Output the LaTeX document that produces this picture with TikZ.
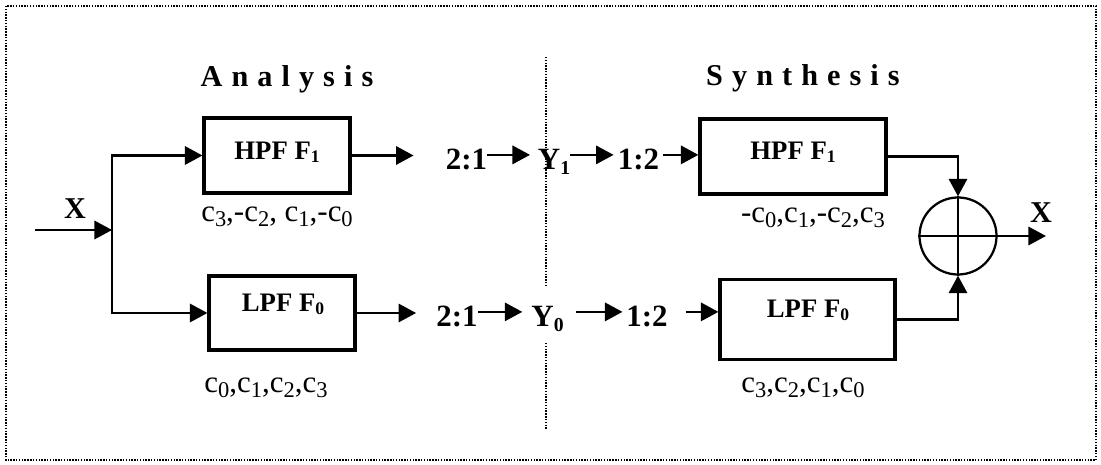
\documentclass[tikz,border=0pt]{standalone}
\usepackage{fontspec}
\setmainfont{Liberation Serif}
\newfontfamily\spacedfont[LetterSpace=30]{Liberation Serif}
\usetikzlibrary{arrows.meta}
\newcommand{\cf}[1]{c\raisebox{-3pt}{\fontsize{16}{16}\selectfont #1}}
\newcommand{\fsub}[1]{\raisebox{-2pt}{\fontsize{12.5}{12.5}\selectfont #1}}
\newcommand{\ysub}[1]{\raisebox{-3pt}{\fontsize{14}{14}\selectfont #1}}
\tikzset{
    filt/.style={draw, line width=2.2pt, inner sep=0pt},
    flabel/.style={anchor=base, inner sep=0pt, font=\bfseries\fontsize{19}{19}\selectfont},
    coef/.style={anchor=base, inner sep=0pt, font=\fontsize{22}{22}\selectfont},
    sig/.style={anchor=base, inner sep=0pt, text height=21.5pt, text depth=0pt, font=\bfseries\fontsize{22}{22}\selectfont},
    xlbl/.style={anchor=base, inner sep=0pt, font=\bfseries\fontsize{21.5}{21.5}\selectfont},
    heading/.style={anchor=base, inner sep=0pt, font=\spacedfont\bfseries\fontsize{21.5}{24}\selectfont},
    wire/.style={line width=1.8pt},
    arr/.style={wire, -{Triangle[length=12.5pt,width=13pt]}},
}
\begin{document}
\begin{tikzpicture}[x=0.025cm, y=-0.025cm]
        \useasboundingbox (0,0) rectangle (1101,465);
        \draw [line width=0.8pt, dash pattern=on 1pt off 1pt] (6,6) rectangle (1096,460);
        \draw [line width=0.8pt, dash pattern=on 1pt off 1pt] (546,57) -- (546,287) (546,343) -- (546,430);
        \node [heading] (ana) at (287,87) {Analysis};
        \node [heading] (syn) at (803,86) {Synthesis};
        \node [filt, minimum width=3.65cm, minimum height=1.875cm] (hpfA) at (277,155.5) {};
        \node [filt, minimum width=3.65cm, minimum height=1.85cm] (lpfA) at (282,313) {};
        \node [filt, minimum width=4.65cm, minimum height=1.875cm] (hpfS) at (793,156.5) {};
        \node [filt, minimum width=4.375cm, minimum height=2cm] (lpfS) at (807.5,319.5) {};
        \node [flabel] (hpfAtxt) at (277,160) {HPF F\fsub{1}};
        \node [flabel] (lpfAtxt) at (283,312) {LPF F\fsub{0}};
        \node [flabel] (hpfStxt) at (793,160) {HPF F\fsub{1}};
        \node [flabel] (lpfStxt) at (808,318) {LPF F\fsub{0}};
        \node [coef] (coefHA) at (277,222) {\cf{3},-\cf{2}, \cf{1},-\cf{0}};
        \node [coef] (coefLA) at (266,393) {\cf{0},\cf{1},\cf{2},\cf{3}};
        \node [coef] (coefHS) at (813,223) {-\cf{0},\cf{1},-\cf{2},\cf{3}};
        \node [coef] (coefLS) at (803,393) {\cf{3},\cf{2},\cf{1},\cf{0}};
        \node [sig] (dnH) at (466.5,170) {2:1};
        \node [sig] (yH) at (554,170) {Y\ysub{1}};
        \node [sig] (upH) at (638.5,170) {1:2};
        \node [sig] (dnL) at (457,327) {2:1};
        \node [sig] (yL) at (547.5,327) {Y\ysub{0}};
        \node [sig] (upL) at (647,327) {1:2};
        \coordinate (xin) at (35,230);
        \coordinate (split) at (112,230);
        \node [xlbl] (xinlbl) at (75,219) {X};
        \draw [arr] (xin) -- (split);
        \draw [arr] (split) |- (hpfA.west);
        \draw [arr] (split) |- (lpfA.west);
        \draw [arr, shorten >=0.8cm] (hpfA.east) -- (hpfA.east -| dnH.west);
        \draw [arr, shorten >=0.5cm] (lpfA.east) -- (lpfA.east -| dnL.west);
        \draw [arr, shorten >=0.19cm] (dnH.east) -- (yH.west);
        \draw [arr, shorten >=0.1cm] (yH.east) -- (upH.west);
        \draw [arr, shorten <=0.1cm] (upH.east) -- (upH.east -| hpfS.west);
        \draw [arr, shorten >=0.22cm] (dnL.east) -- (yL.west);
        \draw [arr, shorten <=0.3cm, shorten >=0.09cm] (yL.east) -- (upL.west);
        \draw [arr, shorten <=0.44cm] (upL.east) -- (upL.east -| lpfS.west);
        \node [draw, circle, line width=1.6pt, minimum size=1.925cm, inner sep=0pt] (sum) at (958,236) {};
        \draw [wire] (sum.north) -- (sum.south) (sum.west) -- (sum.east);
        \draw [arr] (hpfS.east) -| (sum.north);
        \draw [arr] (lpfS.east) -| (sum.south);
        \coordinate (xout) at (1046,236);
        \draw [arr] (sum.east) -- (xout);
        \node [xlbl] (xoutlbl) at (1041,223) {X};
    \end{tikzpicture}
\end{document}
